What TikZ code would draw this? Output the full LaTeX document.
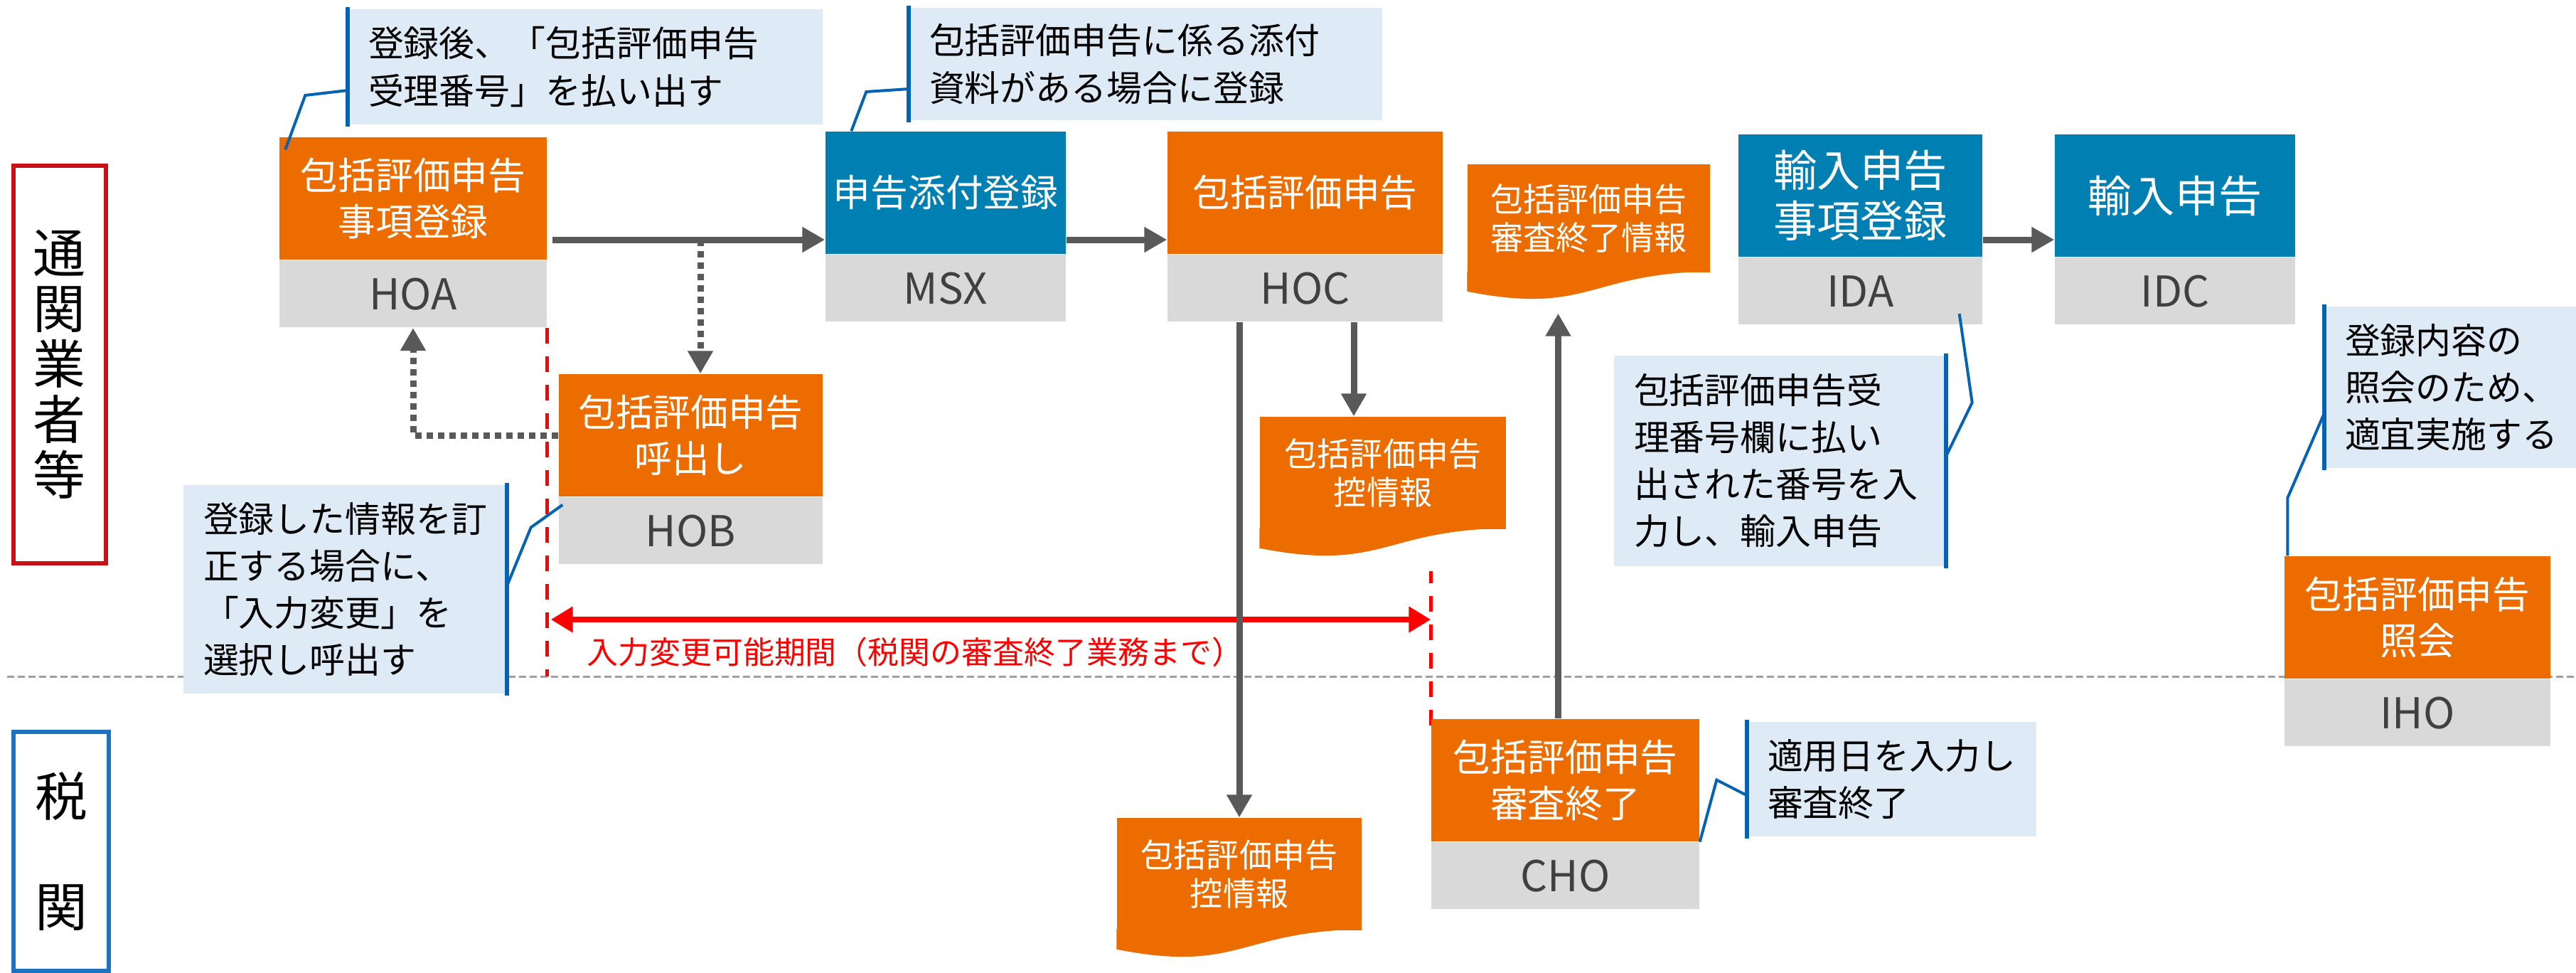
\documentclass[tikz,border=0pt]{standalone}
\usepackage{fontspec}
\setmainfont{Noto Sans CJK JP}
\usetikzlibrary{positioning,arrows.meta,calc,backgrounds}

\definecolor{hoorange}{RGB}{236,108,0}
\definecolor{naccsblue}{RGB}{0,127,178}
\definecolor{idgray}{RGB}{217,217,217}
\definecolor{idtext}{RGB}{64,64,64}
\definecolor{notefill}{RGB}{222,234,246}
\definecolor{noteblue}{RGB}{5,99,180}
\definecolor{flowgray}{RGB}{89,89,89}
\definecolor{lanered}{RGB}{200,16,22}
\definecolor{laneblue}{RGB}{30,115,190}
\definecolor{sepgray}{RGB}{160,160,160}

\tikzset{
    proc/.style={inner sep=0pt, minimum height=1.72cm, align=center, text=white, font=\fontsize{15}{18.4}\selectfont},
    orbox/.style={proc, fill=hoorange},
    blbox/.style={proc, fill=naccsblue},
    idbox/.style={inner sep=0pt, minimum height=0.94cm, fill=idgray, text=idtext, font=\fontsize{17}{20}\selectfont},
    docbox/.style={inner sep=0pt, fill=hoorange, align=center, text=white, font=\fontsize{13.1}{15.4}\selectfont},
    note/.style={fill=notefill, inner xsep=0.28cm, inner ysep=0pt, align=left, font=\fontsize{14.2}{18.8}\selectfont},
    noteline/.style={noteblue, line width=0.06cm},
    pointer/.style={noteblue, line width=0.04cm},
    flow/.style={flowgray, line width=0.09cm, -{Triangle[length=0.32cm,width=0.34cm]}},
    dotflow/.style={flow, dash pattern=on 0.09cm off 0.07cm},
    lane/.style={line width=0.06cm, inner sep=0pt, align=center, font=\fontsize{21}{22.2}\selectfont},
    period/.style={red, line width=0.08cm, {Triangle[length=0.31cm,width=0.35cm]}-{Triangle[length=0.31cm,width=0.35cm]}},
    reddash/.style={red, line width=0.05cm, dash pattern=on 0.22cm off 0.18cm},
}

\begin{document}
\begin{tikzpicture}
    \useasboundingbox (0,0) rectangle (36.23,-13.67);

    % lanes
    \node[lane, draw=lanered, minimum width=1.30cm, minimum height=5.59cm] (broker) at (0.835,-5.125) {通\\関\\業\\者\\等};
    \node[lane, draw=laneblue, minimum width=1.34cm, minimum height=3.36cm] (customs) at (0.86,-11.97) {税\\[0.77cm]関};

    % processes
    \node[orbox, minimum width=3.76cm] (hoa) at (5.81,-2.79) {包括評価申告\\事項登録};
    \node[idbox, minimum width=3.76cm, below=0pt of hoa] (hoaid) {HOA};
    \node[blbox, minimum width=3.38cm] (msx) at (13.30,-2.71) {申告添付登録};
    \node[idbox, minimum width=3.38cm, below=0pt of msx] (msxid) {MSX};
    \node[orbox, minimum width=3.87cm] (hoc) at (18.355,-2.71) {包括評価申告};
    \node[idbox, minimum width=3.87cm, below=0pt of hoc] (hocid) {HOC};
    \node[blbox, minimum width=3.43cm, font=\fontsize{17.4}{20.2}\selectfont] (ida) at (26.165,-2.75) {輸入申告\\事項登録};
    \node[idbox, minimum width=3.43cm, below=0pt of ida] (idaid) {IDA};
    \node[blbox, minimum width=3.38cm, font=\fontsize{17.4}{20.2}\selectfont] (idc) at (30.59,-2.75) {輸入申告};
    \node[idbox, minimum width=3.38cm, below=0pt of idc] (idcid) {IDC};
    \node[orbox, minimum width=3.71cm] (hob) at (9.715,-6.12) {包括評価申告\\呼出し};
    \node[idbox, minimum width=3.71cm, below=0pt of hob] (hobid) {HOB};
    \node[orbox, minimum width=3.77cm] (cho) at (22.015,-10.97) {包括評価申告\\審査終了};
    \node[idbox, minimum width=3.77cm, below=0pt of cho] (choid) {CHO};
    \node[orbox, minimum width=3.74cm] (iho) at (34.00,-8.68) {包括評価申告\\照会};
    \node[idbox, minimum width=3.74cm, below=0pt of iho] (ihoid) {IHO};

    % documents
    \node[docbox, minimum width=3.41cm, minimum height=1.52cm] (exinfo) at (22.345,-3.07) {包括評価申告\\審査終了情報};
    \node[docbox, minimum width=3.46cm, minimum height=1.58cm] (ctla) at (19.45,-6.65) {包括評価申告\\控情報};
    \node[docbox, minimum width=3.44cm, minimum height=1.58cm] (ctlb) at (17.43,-12.29) {包括評価申告\\控情報};
    \foreach \d in {exinfo, ctla, ctlb}
        \fill[hoorange] ([yshift=0.02cm]\d.south east) .. controls (\d.south) and ([yshift=-0.6cm]\d.south) .. ([yshift=-0.26cm]\d.south west) -- ([yshift=0.02cm]\d.south west) -- cycle; %wave

    % notes
    \node[note, text width=6.11cm, minimum height=1.62cm] (reg) at (8.235,-0.94) {登録後、「包括評価申告\\受理番号」を払い出す};
    \node[note, text width=6.09cm, minimum height=1.58cm] (att) at (16.115,-0.90) {包括評価申告に係る添付\\資料がある場合に登録};
    \node[note, text width=4.10cm, minimum height=2.96cm] (num) at (25.03,-6.48) {包括評価申告受\\理番号欄に払い\\出された番号を入\\力し、輸入申告};
    \node[note, text width=3.04cm, minimum height=2.27cm] (inq) at (34.50,-5.445) {登録内容の\\照会のため、\\適宜実施する};
    \node[note, text width=3.98cm, minimum height=2.93cm] (fix) at (4.85,-8.285) {登録した情報を訂\\正する場合に、\\「入力変更」を\\選択し呼出す};
    \node[note, text width=3.50cm, minimum height=1.61cm] (date) at (26.61,-10.955) {適用日を入力し\\審査終了};

    \foreach \n in {reg, att, inq, date}
        \draw[noteline] ([yshift=0.02cm]\n.north west) -- ([yshift=-0.02cm]\n.south west);
    \foreach \n in {num, fix}
        \draw[noteline] ([yshift=0.02cm]\n.north east) -- ([yshift=-0.02cm]\n.south east);

    \draw[pointer] ([yshift=-0.33cm]reg.west) -- ++(-0.6,-0.07) -- ([xshift=0.09cm,yshift=-0.18cm]hoa.north west);
    \draw[pointer] ([yshift=-0.35cm]att.west) -- ++(-0.6,-0.04) -- ([xshift=0.37cm]msx.north west);
    \draw[pointer] ([xshift=-0.33cm,yshift=0.16cm]idaid.south east) -- ++(0.18,-1.25) -- ([yshift=0.06cm]num.east);
    \draw[pointer] ([yshift=-0.355cm]inq.west) -- ++(-0.52,-1.2) -- ([xshift=0.05cm]iho.north west);
    \draw[pointer] ([yshift=0.04cm]fix.east) -- ++(0.34,0.83) -- ([xshift=0.06cm,yshift=-0.11cm]hobid.north west);
    \draw[pointer] ([yshift=-0.23cm]date.west) -- ++(-0.43,0.22) -- (cho.south east);

    % lane border and input change period
    \begin{scope}[on background layer]
        \coordinate (sep) at (0,-9.51);
        \coordinate (per) at (0,-8.71);
        \draw[sepgray, line width=0.03cm, dash pattern=on 0.1cm off 0.05cm] (0.1,-9.51) -- (36.23,-9.51);
        \draw[reddash] (hoaid.south east) -- (hoaid.south east |- sep);
        \draw[reddash] ([yshift=-0.1cm]cho.north west) -- ++(0,2.17);
        \draw[period, shorten <=0.05cm] (hoaid.south east |- per) -- (cho.north west |- per);
    \end{scope}
    \node[red, anchor=west, font=\fontsize{12.5}{14}\selectfont] (perlabel) at (8.13,-9.17) {入力変更可能期間（税関の審査終了業務まで）};

    % flows
    \coordinate (lvl) at (0,-3.37);
    \coordinate (fork) at (9.85,-3.37);
    \coordinate (hocout) at ([xshift=0.685cm]hocid.south);
    \coordinate (chout) at ([xshift=-0.1cm]cho.north);
    \draw[flow, shorten <=0.07cm] (hoa.east |- lvl) -- (msx.west |- lvl);
    \draw[flow] (msx.east |- lvl) -- (hoc.west |- lvl);
    \draw[flow] (ida.east |- lvl) -- (idc.west |- lvl);
    \draw[dotflow] (fork) -- (fork |- hob.north);
    \draw[dotflow] (hob.west) -| (hoaid.south);
    \draw[flow] (hocout) -- (hocout |- ctla.north);
    \draw[flow] (ctlb.north |- hocid.south) -- (ctlb.north);
    \draw[flow] (chout) -- ($(chout |- exinfo.south)+(0,-0.57)$);

\end{tikzpicture}
\end{document}
